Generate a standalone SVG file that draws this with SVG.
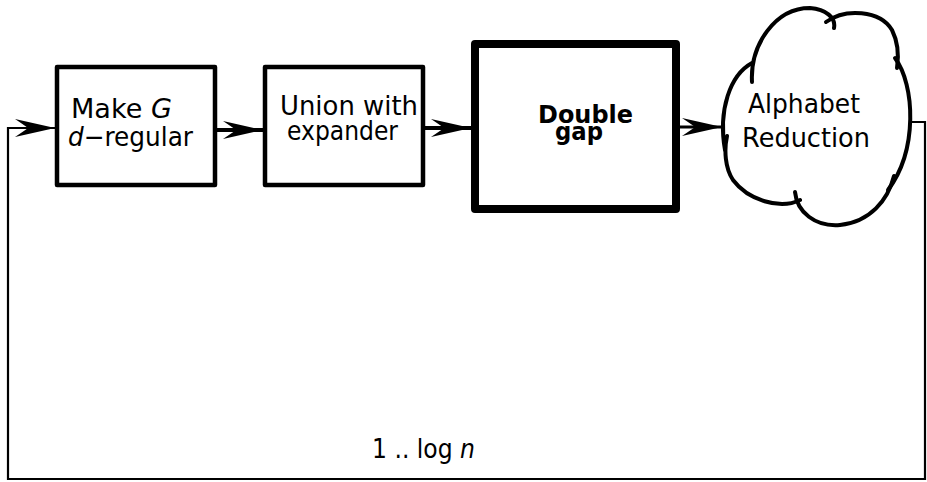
<svg xmlns="http://www.w3.org/2000/svg" width="927" height="482" viewBox="0 0 927 482">
  <style>
    .box { fill: #fff; stroke: #000; stroke-linejoin: round; }
    .lbl { font-family: "DejaVu Sans", "Liberation Sans", sans-serif; font-size: 27px; fill: #000; }
    .it { font-style: italic; }
    .bold { font-weight: bold; font-size: 25px; }
    .wire { fill: none; stroke: #000; }
    .cloud path { fill: none; stroke: #000; stroke-width: 4; stroke-linecap: round; }
  </style>
  <defs>
    <marker id="head" markerUnits="userSpaceOnUse" markerWidth="44" markerHeight="24" viewBox="-42 -12 44 24" refX="0" refY="0" orient="auto" overflow="visible">
      <path d="M0,0 L-40,-9 Q-31,-3 -27,0 Q-31,3 -40,9 Z" fill="#000"/>
    </marker>
  </defs>

  <!-- connectors -->
  <g id="connectors">
    <path class="wire" stroke-width="4" d="M217,130 L263,130" marker-end="url(#head)"/>
    <path class="wire" stroke-width="4" d="M425,128 L471,128" marker-end="url(#head)"/>
    <path class="wire" stroke-width="3" d="M680,127 L722,127" marker-end="url(#head)"/>
    <!-- feedback loop -->
    <path class="wire" stroke-width="2.2" d="M909,122 L925,122 L925,479 L8,479 L8,128 L55,128" marker-end="url(#head)"/>
    <text class="lbl" x="372" y="458" font-size="23" textLength="103" lengthAdjust="spacingAndGlyphs">1 .. log <tspan class="it">n</tspan></text>
  </g>

  <!-- nodes -->
  <g id="make-regular">
    <rect class="box" x="57" y="67" width="158" height="118" stroke-width="4.5"/>
    <text class="lbl" x="71" y="118" textLength="101" lengthAdjust="spacingAndGlyphs">Make <tspan class="it">G</tspan></text>
    <text class="lbl" x="68" y="146" textLength="125" lengthAdjust="spacingAndGlyphs"><tspan class="it">d</tspan>−regular</text>
  </g>

  <g id="union-expander">
    <rect class="box" x="265" y="67" width="158" height="118" stroke-width="4.5"/>
    <text class="lbl" x="280" y="115" textLength="138" lengthAdjust="spacingAndGlyphs">Union with</text>
    <text class="lbl" x="287" y="140" textLength="111" lengthAdjust="spacingAndGlyphs">expander</text>
  </g>

  <g id="double-gap">
    <rect class="box" x="475" y="44" width="201" height="165" stroke-width="8"/>
    <text class="lbl bold" x="538" y="123" textLength="95" lengthAdjust="spacingAndGlyphs">Double</text>
    <text class="lbl bold" x="555" y="140" textLength="48" lengthAdjust="spacingAndGlyphs">gap</text>
  </g>

  <g id="alphabet-reduction" class="cloud">
    <path d="M752,82 C750,45 775,8 810,8 C826,9 836,18 834,28"/>
    <path d="M826,22 C845,8 880,10 892,30 C898,42 899,55 897,68"/>
    <path d="M895,58 C915,85 918,150 888,190"/>
    <path d="M894,176 C888,200 870,222 840,225 C815,227 797,212 795,192"/>
    <path d="M800,200 C780,210 748,200 733,180 C725,168 724,150 727,136"/>
    <path d="M725,150 C718,110 730,75 752,63"/>
    <text class="lbl" x="748" y="113" textLength="112" lengthAdjust="spacingAndGlyphs">Alphabet</text>
    <text class="lbl" x="742" y="147" textLength="128" lengthAdjust="spacingAndGlyphs">Reduction</text>
  </g>
</svg>
